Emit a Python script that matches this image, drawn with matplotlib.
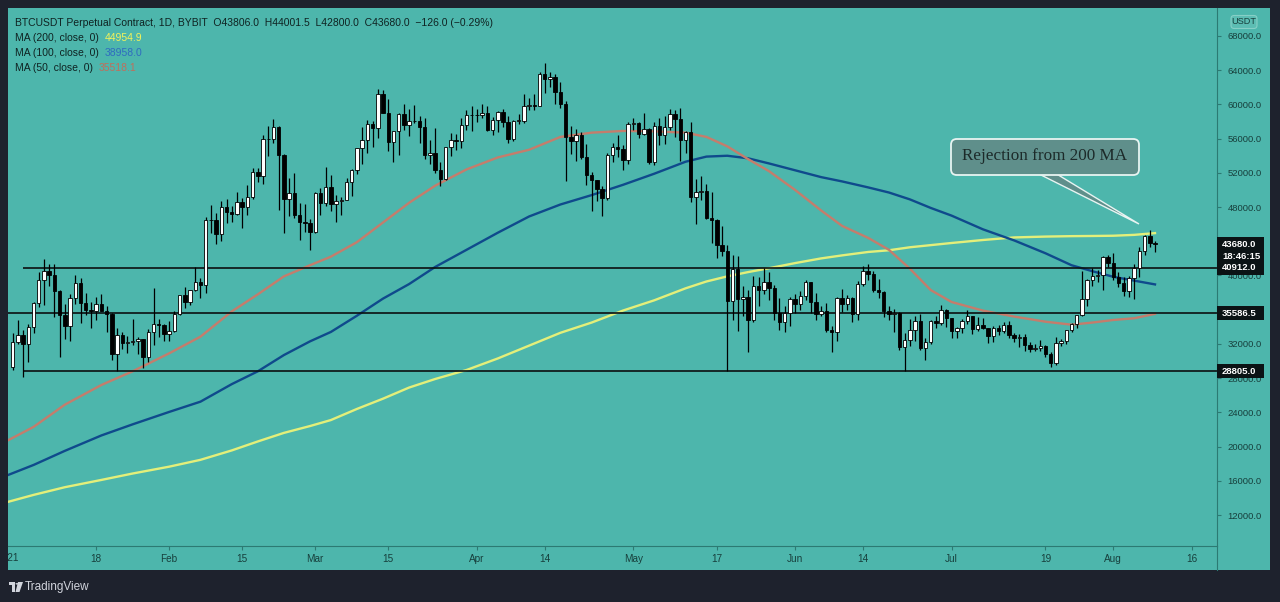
import numpy as np
import pandas as pd
import matplotlib
matplotlib.use("Agg")
import matplotlib.pyplot as plt
import matplotlib.dates as mdates
from matplotlib.patches import Rectangle, FancyBboxPatch, Polygon, Circle
from matplotlib.lines import Line2D
from matplotlib.text import Annotation
from matplotlib.transforms import Bbox, TransformedBbox, blended_transform_factory

plt.rcParams['font.family'] = ['Liberation Sans', 'DejaVu Sans']

# ---------------- data (daily candles, 2021-01-02 .. 2021-08-09) ----------------
start_date = '2021-01-02'
opens = [29330,32180,33000,31990,33950,36770,39430,40580,40090,38150,35400,34050,37370,39160,36770,36010,35820,36630,35890,35470,30830,32990,32100,32270,32370,32570,30430,33400,34320,34270,
         33110,33530,35510,37670,36920,38290,39260,38870,46450,46510,44840,47970,47410,47190,48630,47950,49170,52120,51590,55920,55910,57410,54090,48890,49680,47070,46280,46110,
         45140,49590,48440,50350,48370,48760,48880,50970,52390,54880,55860,57770,57220,61190,59000,55640,56930,58930,57650,58030,58100,57350,54080,54340,52300,51290,55030,55820,55780,57630,58730,
         58740,58720,58950,57060,58200,59060,57990,56000,58090,58090,59770,59960,59840,63580,62960,63230,61430,60060,56250,55720,56470,53810,51700,51190,50100,49060,54030,55030,54820,53560,
         57750,57830,56580,57170,53220,57470,56430,57380,58930,58280,55860,56750,49150,49720,49880,46760,46460,43540,42910,36970,40780,37280,37540,34770,38800,38320,39240,38530,35660,34610,35660,
         37290,36690,37570,39190,36850,35520,35800,33580,33400,37390,36690,37340,35550,39020,40520,40140,38350,38090,35820,35480,35600,31680,32510,33680,34660,31580,32230,34700,34490,35910,
         35040,33540,33860,34690,35290,33690,34220,33860,32880,33810,33520,34260,33090,32730,32820,31880,31380,31520,31780,30840,29790,32140,32290,33580,34280,35380,37270,39460,39980,40020,42210,
         41460,39850,39150,38190,39720,40890,42840,44610,43806]
highs = [33300,34780,33600,34360,36940,40370,41940,41380,41350,38260,36630,37850,40100,39700,37950,36850,37470,37850,36420,35600,33830,33450,32940,34880,32790,32570,33780,38530,34880,34320,
         34720,35900,37660,38710,38310,40960,39720,46790,48200,47310,48680,48980,48140,49710,49050,50600,52620,52550,56370,57490,58350,57530,54170,51370,52000,48420,48390,46630,
         49790,50200,52640,51740,49450,49200,51450,52400,54900,57390,58150,58060,61840,61700,60630,56940,58970,60100,59450,59880,58600,58430,55830,57200,53230,55070,56620,56560,58400,59370,59800,
         59460,60040,59790,58490,59230,59450,58660,58150,58860,61200,60790,61200,63780,64850,63800,63590,62570,60400,57520,57070,56760,55410,52130,51200,50500,54360,55470,56430,55200,58000,
         58450,57940,58970,57200,57910,58360,58650,59460,59300,59590,56920,58000,51330,51580,50700,49800,46640,45800,43550,42450,42240,38830,38300,39920,39800,40840,40410,38860,37330,36400,37500,
         37890,38220,39480,39290,37920,36480,36790,34070,37530,38400,37680,37440,39380,41060,41330,40530,39560,38200,36460,36100,35740,33300,34880,35250,35500,32700,34750,35300,36600,36100,
         35040,33940,34950,35950,35290,35100,35060,33910,34100,34260,34590,34670,33330,33110,33190,32250,31950,32440,31900,31060,32860,32580,33650,34500,35400,40550,39540,40900,40630,42320,42440,
         42600,40460,39780,39970,41400,43390,44700,45300,44001.5]
lows = [28950,31960,28130,29900,33290,36300,36500,38720,35110,30420,32530,32380,36700,34410,35360,33850,34800,35900,33400,30070,28850,31390,30900,31910,30840,29240,29840,31920,32830,32300,
        32300,33420,35370,36160,36570,38140,37350,37990,45020,43730,43980,46130,46200,47050,45580,47050,48950,50900,50700,54000,55480,47620,45000,47000,46690,44110,45030,43020,
        45000,47050,48100,47500,46300,47070,48880,49270,51850,53000,54270,55000,56080,59020,54600,53270,54120,57020,56270,57820,55450,53650,53000,52000,50430,51220,53950,54690,54900,57010,56870,
        57940,58450,56860,56480,56790,57330,55470,55700,57680,57870,59380,59370,59840,61300,62020,60000,59580,51000,54220,53420,53600,50580,47500,48750,47000,48810,53220,53880,52330,53010,
        57050,56040,56440,53050,52900,55200,55380,56970,56240,53400,54340,48600,46000,48820,46550,43830,42000,42250,28805,34850,33500,35250,31100,34550,36420,37800,37170,34780,33630,33380,34150,
        35670,35920,37170,35560,34800,35260,33380,31000,32400,35780,35940,34600,34760,38730,39510,38120,37370,35130,34820,33350,31250,28805,31700,32300,31270,30150,32000,33860,34220,34020,
        32710,32700,33320,34350,33130,33500,33770,32100,32260,33000,33320,32660,32200,31600,31130,31020,31160,31220,30500,29280,29480,31710,31950,33400,33880,35210,36400,38770,39200,38320,41000,
        39420,38690,37640,37510,37300,39850,42450,43300,42800]
closes = [32180,33000,31990,33950,36770,39430,40580,40090,38150,35400,34050,37370,39160,36770,36010,35820,36630,35890,35470,30830,32990,32100,32270,32370,32570,30430,33400,34320,34270,33110,
          33530,35510,37670,36920,38290,39260,38870,46450,46510,44840,47970,47410,47190,48630,47950,49170,52120,51590,55920,55910,57410,54090,48890,49680,47070,46280,46110,45140,
          49590,48440,50350,48370,48760,48880,50970,52390,54880,55860,57770,57220,61190,59000,55640,56930,58930,57650,58030,58100,57350,54080,54340,52300,51290,55030,55820,55780,57630,58730,58740,
          58720,58950,57060,58200,59060,57990,56000,58090,58090,59770,59960,59840,63580,62960,63230,61430,60060,56250,55720,56470,53810,51700,51190,50100,49060,54030,55030,54820,53560,57750,
          57830,56580,57170,53220,57470,56430,57380,58930,58280,55860,56750,49150,49720,49880,46760,46460,43540,42910,36970,40780,37280,37540,34770,38800,38320,39240,38530,35660,34610,35660,37290,
          36690,37570,39190,36850,35520,35800,33580,33400,37390,36690,37340,35550,39020,40520,40140,38350,38090,35820,35480,35600,31680,32510,33680,34660,31580,32230,34700,34490,35910,35040,
          33540,33860,34690,35290,33690,34220,33860,32880,33810,33520,34260,33090,32730,32820,31880,31380,31520,31780,30840,29790,32140,32290,33580,34280,35380,37270,39460,39980,40020,42210,41460,
          39850,39150,38190,39720,40890,42840,44610,43806,43680]

# moving averages (day offset from 2021-01-01)
ma_days = [0,5,11,18,24,31,37,43,48,53,58,62,67,72,77,82,88,94,100,106,112,118,124,130,134,138,142,146,151,156,160,165,169,173,177,181,187,193,199,204,208,212,216,220]
ma200 = [13520,14350,15250,16100,16850,17650,18450,19550,20600,21600,22400,23100,24400,25600,26900,27900,28950,30300,31800,33300,34500,35900,37100,38500,39300,39900,40400,40850,41450,42000,42350,42750,42950,43300,43550,43800,44150,44450,44550,44600,44620,44650,44750,44954.9]
ma100 = [16650,17850,19500,21300,22600,24050,25250,27300,28800,30700,32300,33400,35300,37300,39000,41000,43000,45000,46900,48300,49400,50600,51900,53300,53900,54000,53700,53100,52300,51500,51000,50300,49700,48900,47900,47000,45400,44100,42600,41200,40500,39850,39400,38958.0]
ma50 = [20700,22300,24900,27200,28800,30900,32850,35800,37800,39900,41200,42200,43900,46200,48500,50500,52400,53800,54700,56200,56700,56900,56850,56700,56200,55100,53600,52200,50000,47600,45800,44400,43000,40800,38300,36900,35900,35200,34600,34250,34500,34800,35000,35518.1]

levels = [40912.0, 35586.5, 28805.0]
level_starts = ['2021-01-04', None, '2021-01-04']

xtick_dates = ['2021-01-18','2021-02-01','2021-02-15','2021-03-01','2021-03-15','2021-04-01','2021-04-14',
               '2021-05-01','2021-05-17','2021-06-01','2021-06-14','2021-07-01','2021-07-19','2021-08-01','2021-08-16']
xtick_labels = ['18','Feb','15','Mar','15','Apr','14','May','17','Jun','14','Jul','19','Aug','16']
year_label = ('2021-01-01', '2021')
ytick_values = list(range(12000, 68001, 4000))
countdown = '18:46:15'
annotation_text = 'Rejection from 200 MA'

# ---------------- layout helpers ----------------
W, H = 1280, 602
def fx(px): return px / W
def fy(py): return 1 - py / H

BG = '#1e222d'
TEAL = '#4db6ac'
AXC = '#2c7a73'
LABC = '#173f3c'

fig = plt.figure(figsize=(W / 100, H / 100), dpi=100, facecolor=BG)
fig.add_artist(Rectangle((fx(8), fy(570)), fx(1270) - fx(8), fy(8) - fy(570),
                         transform=fig.transFigure, facecolor=TEAL, edgecolor='none', zorder=-10))
ax = fig.add_axes([fx(8), fy(546), fx(1217) - fx(8), fy(8) - fy(546)])
ax.set_facecolor(TEAL)

jan1 = mdates.date2num(pd.Timestamp('2021-01-01'))
x0 = jan1 + 0.1
x1 = x0 + 1209 / 5.216
ymin, ymax = 8376, 71273
ax.set_xlim(x0, x1)
ax.set_ylim(ymin, ymax)
per_px = (ymax - ymin) / (546 - 8)

# ---------------- candles ----------------
o = np.array(opens, float); h = np.array(highs, float)
l = np.array(lows, float); c = np.array(closes, float)
dates = pd.date_range(start_date, periods=len(c), freq='D')
xd = mdates.date2num(dates)
up = c >= o
ax.vlines(xd, l, h, colors='black', lw=0.9, zorder=3)
body_lo = np.minimum(o, c)
body_h = np.maximum(np.abs(c - o), 70)
ax.bar(xd, body_h, bottom=body_lo, width=0.66,
       color=['white' if u else 'black' for u in up], edgecolor='black', linewidth=0.6, zorder=4)

# ---------------- moving averages ----------------
ma_x = jan1 + np.array(ma_days, float)
ax.plot(ma_x, ma200, color='#e3ef7a', lw=1.7, zorder=2, solid_joinstyle='round')
ax.plot(ma_x, ma100, color='#0f4a8c', lw=1.7, zorder=2, solid_joinstyle='round')
ax.plot(ma_x, ma50, color='#c47d6c', lw=1.7, zorder=2, solid_joinstyle='round')

# ---------------- horizontal levels ----------------
for lvl, st in zip(levels, level_starts):
    xs = mdates.date2num(pd.Timestamp(st)) if st else x0
    ax.hlines(lvl, xs, x1, colors='#0b1011', lw=1.2, zorder=2.5)

# ---------------- axes styling ----------------
ax.yaxis.tick_right()
ax.set_yticks(ytick_values)
ax.set_yticklabels([f'{v:.1f}' for v in ytick_values])
ax.tick_params(axis='y', direction='out', length=3, width=0.8, color=AXC,
               labelcolor=LABC, labelsize=6.8, pad=4.5)
ax.set_xticks(mdates.date2num(pd.to_datetime(xtick_dates)))
ax.set_xticklabels(xtick_labels)
ax.tick_params(axis='x', direction='out', length=3, width=0.8, color=AXC,
               labelcolor=LABC, labelsize=7.2, pad=3)
for s in ['top', 'left']:
    ax.spines[s].set_visible(False)
for s in ['bottom', 'right']:
    ax.spines[s].set_color(AXC)
    ax.spines[s].set_linewidth(0.8)
fig.add_artist(Line2D([fx(1217), fx(1217)], [fy(546), fy(570)], transform=fig.transFigure,
                      color=AXC, lw=0.8))

# year label, clipped at the left edge of the pane as in the reference
trans_xd = blended_transform_factory(ax.transData, fig.transFigure)
yt = fig.text(mdates.date2num(pd.Timestamp(year_label[0])), fy(558), year_label[1], transform=trans_xd,
              ha='center', va='center', fontsize=7.2, color=LABC)
yt.set_clip_box(TransformedBbox(Bbox.from_extents(fx(8), 0, fx(1217), 1), fig.transFigure))
yt.set_clip_on(True)

# ---------------- price scale boxes ----------------
trans_fy = blended_transform_factory(fig.transFigure, ax.transData)
BOXC = '#0b1315'
last = c[-1]
fig.add_artist(Rectangle((fx(1217), last - 19 * per_px), fx(1264) - fx(1217), 26 * per_px,
                         transform=trans_fy, facecolor=BOXC, edgecolor='none', zorder=5))
fig.text(fx(1222), last, f'{last:.1f}', transform=trans_fy, ha='left', va='center',
         fontsize=6.8, fontweight='bold', color='white', zorder=6)
fig.text(fx(1222), last - 12.5 * per_px, countdown, transform=trans_fy, ha='left', va='center',
         fontsize=6.8, fontweight='bold', color='white', zorder=6)
for lvl in levels:
    fig.add_artist(Rectangle((fx(1217), lvl - 7 * per_px), fx(1264) - fx(1217), 14 * per_px,
                             transform=trans_fy, facecolor=BOXC, edgecolor='none', zorder=5))
    fig.text(fx(1222), lvl, f'{lvl:.1f}', transform=trans_fy, ha='left', va='center',
             fontsize=6.8, fontweight='bold', color='white', zorder=6)

# USDT tag
fig.add_artist(FancyBboxPatch((fx(1231), fy(28.5)), fx(1257) - fx(1231), fy(15.5) - fy(28.5),
                              boxstyle='round,pad=0,rounding_size=0.0025', mutation_aspect=W / H,
                              transform=fig.transFigure, facecolor='#5cbdb3', edgecolor='#86cfc6',
                              lw=0.8, zorder=5))
fig.text(fx(1244), fy(22), 'USDT', ha='center', va='center', fontsize=6.6, color=LABC, zorder=6)

# ---------------- header ----------------
chg = c[-1] - c[-2]
pct = chg / c[-2] * 100
def sgn(v, fmt):
    return format(v, fmt).replace('-', '\u2212')
header = (f'BTCUSDT Perpetual Contract, 1D, BYBIT  O{o[-1]:.1f}  H{h[-1]:.1f}  L{l[-1]:.1f}  '
          f'C{c[-1]:.1f}  {sgn(chg, ".1f")} ({sgn(pct, ".2f")}%)')
HC = '#0f2322'
HFS = 7.5
fig.text(fx(15), fy(23), header, fontsize=HFS, color=HC, va='center')
ma_rows = [('MA (200, close, 0)', ma200[-1], '#f2f25a'),
           ('MA (100, close, 0)', ma100[-1], '#2f6bc0'),
           ('MA (50, close, 0)', ma50[-1], '#bf6f5c')]
for i, (lab, val, col) in enumerate(ma_rows):
    t = fig.text(fx(15), fy(38 + 15 * i), lab, fontsize=HFS, color=HC, va='center')
    fig.add_artist(Annotation(f'{val:.1f}', xy=(1, 0.5), xycoords=t, xytext=(4, 0),
                              textcoords='offset points', va='center', ha='left',
                              fontsize=HFS, color=col))

# ---------------- callout ----------------
CALL = '#5f8f8b'
fig.add_artist(Polygon([(fx(1037), fy(173)), (fx(1055), fy(173)), (fx(1139), fy(224))],
                       closed=True, transform=fig.transFigure, facecolor=CALL,
                       edgecolor='#e8f4f2', lw=1.0, zorder=7))
fig.add_artist(FancyBboxPatch((fx(951), fy(175)), fx(1139) - fx(951), fy(139) - fy(175),
                              boxstyle='round,pad=0,rounding_size=0.0045', mutation_aspect=W / H,
                              transform=fig.transFigure, facecolor=CALL, edgecolor='#e8f4f2',
                              lw=1.3, zorder=8))
fig.text(fx(1045), fy(156), annotation_text, ha='center', va='center', fontsize=12.3,
         family=['Liberation Serif', 'DejaVu Serif'], color='#1c2a29', zorder=9)

# ---------------- footer logo ----------------
LOGO = '#d1d4dc'
fig.add_artist(Rectangle((fx(9), fy(585)), fx(15) - fx(9), fy(582) - fy(585),
                         transform=fig.transFigure, facecolor=LOGO, edgecolor='none'))
fig.add_artist(Rectangle((fx(11.5), fy(592)), fx(15) - fx(11.5), fy(582) - fy(592),
                         transform=fig.transFigure, facecolor=LOGO, edgecolor='none'))
fig.add_artist(Polygon([(fx(18), fy(582)), (fx(23), fy(582)), (fx(19.5), fy(592)), (fx(15.5), fy(592))],
                       transform=fig.transFigure, facecolor=LOGO, edgecolor='none'))
fig.add_artist(Circle((fx(17), fy(583.8)), 1.6 / W, transform=fig.transFigure,
                      facecolor=LOGO, edgecolor='none'))
fig.text(fx(25), fy(587), 'TradingView', fontsize=8.5, color=LOGO, va='center', ha='left')

fig.savefig('out.png', dpi=100, facecolor=BG)
